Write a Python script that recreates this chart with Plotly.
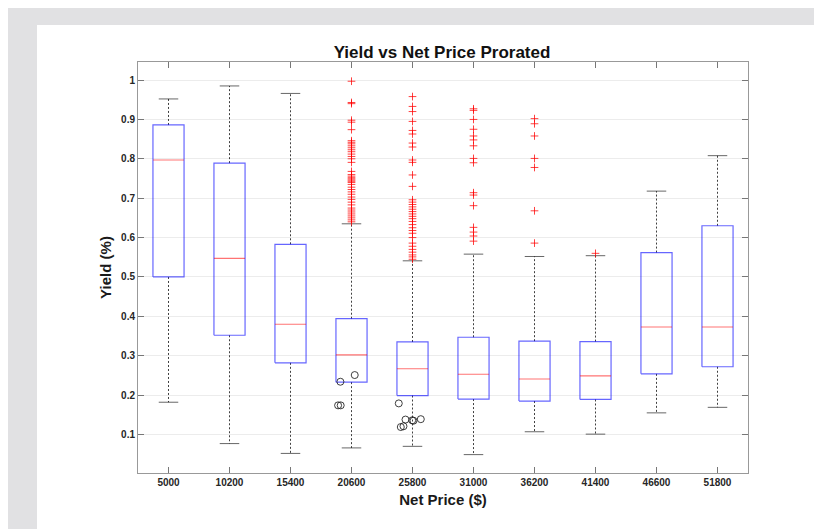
import plotly.graph_objects as go

# ---------------- data ----------------
categories = ["5000", "10200", "15400", "20600", "25800", "31000", "36200", "41400", "46600", "51800"]
q1 =        [0.500, 0.352, 0.282, 0.233, 0.199, 0.190, 0.185, 0.189, 0.254, 0.272]
median =    [0.797, 0.547, 0.380, 0.302, 0.267, 0.253, 0.241, 0.249, 0.373, 0.373]
q3 =        [0.886, 0.789, 0.583, 0.394, 0.335, 0.347, 0.337, 0.336, 0.562, 0.630]
whisk_lo =  [0.182, 0.077, 0.052, 0.066, 0.070, 0.049, 0.107, 0.101, 0.155, 0.169]
whisk_hi =  [0.952, 0.985, 0.966, 0.635, 0.541, 0.558, 0.552, 0.554, 0.718, 0.808]

outliers_20600 = [0.997, 0.943, 0.940, 0.898, 0.893, 0.874, 0.846, 0.842, 0.838, 0.833,
                  0.828, 0.823, 0.818, 0.812, 0.806, 0.800, 0.791, 0.768, 0.760, 0.756,
                  0.752, 0.749, 0.746, 0.743, 0.740, 0.735, 0.728, 0.722, 0.716, 0.710,
                  0.703, 0.697, 0.690, 0.683, 0.675, 0.670, 0.665, 0.660, 0.655, 0.650,
                  0.645, 0.640]
outliers_25800 = [0.958, 0.933, 0.920, 0.895, 0.872, 0.863, 0.840, 0.830, 0.797, 0.791,
                  0.759, 0.730, 0.696, 0.690, 0.684, 0.678, 0.672, 0.666, 0.660, 0.654,
                  0.648, 0.641, 0.633, 0.625, 0.618, 0.611, 0.600, 0.586, 0.578, 0.570,
                  0.563, 0.556, 0.551, 0.545]
outliers_31000 = [0.927, 0.923, 0.900, 0.875, 0.858, 0.848, 0.833, 0.801, 0.790, 0.714,
                  0.708, 0.681, 0.626, 0.614, 0.604, 0.591]
outliers_36200 = [0.902, 0.889, 0.858, 0.801, 0.778, 0.668, 0.586]
outliers_41400 = [0.560]
outlier_groups = {"20600": outliers_20600, "25800": outliers_25800, "31000": outliers_31000,
                  "36200": outliers_36200, "41400": outliers_41400}

# low-yield points drawn as open circles (x = category position, y = yield)
circle_pos =   [3.818, 4.053, 3.780, 3.823, 4.775, 4.808, 4.852, 4.885, 4.995, 5.016, 5.136]
circle_yield = [0.234, 0.251, 0.174, 0.174, 0.179, 0.119, 0.121, 0.138, 0.136, 0.135, 0.139]

y_tick_vals = [0.1, 0.2, 0.3, 0.4, 0.5, 0.6, 0.7, 0.8, 0.9, 1.0]
y_tick_text = ["0.1", "0.2", "0.3", "0.4", "0.5", "0.6", "0.7", "0.8", "0.9", "1"]

# ---------------- geometry helpers ----------------
BOX_HW = 0.255
CAP_HW = 0.16
positions = list(range(1, len(categories) + 1))

bx, by, mx, my, wx, wy, cx, cy = [], [], [], [], [], [], [], []
for p, a, m, b, lo, hi in zip(positions, q1, median, q3, whisk_lo, whisk_hi):
    bx += [p - BOX_HW, p + BOX_HW, p + BOX_HW, p - BOX_HW, p - BOX_HW, None]
    by += [a, a, b, b, a, None]
    mx += [p - BOX_HW, p + BOX_HW, None]
    my += [m, m, None]
    wx += [p, p, None, p, p, None]
    wy += [b, hi, None, a, lo, None]
    cx += [p - CAP_HW, p + CAP_HW, None, p - CAP_HW, p + CAP_HW, None]
    cy += [hi, hi, None, lo, lo, None]

ox, oy = [], []
for cat, vals in outlier_groups.items():
    p = positions[categories.index(cat)]
    ox += [p] * len(vals)
    oy += vals

fig = go.Figure()
fig.add_trace(go.Scatter(x=wx, y=wy, mode="lines",
                         line=dict(color="rgba(0,0,0,0.75)", width=1, dash="2px,2px"),
                         hoverinfo="skip", showlegend=False))
fig.add_trace(go.Scatter(x=cx, y=cy, mode="lines",
                         line=dict(color="rgba(0,0,0,0.6)", width=1),
                         hoverinfo="skip", showlegend=False))
fig.add_trace(go.Scatter(x=bx, y=by, mode="lines",
                         line=dict(color="rgba(0,0,255,0.6)", width=1.2),
                         showlegend=False))
fig.add_trace(go.Scatter(x=mx, y=my, mode="lines",
                         line=dict(color="rgba(255,0,0,0.55)", width=1.2),
                         showlegend=False))
fig.add_trace(go.Scatter(x=ox, y=oy, mode="markers",
                         marker=dict(symbol="cross-thin", size=5.5, color="rgba(255,0,0,0.75)",
                                     line=dict(color="rgba(255,0,0,0.75)", width=1)),
                         showlegend=False))
fig.add_trace(go.Scatter(x=circle_pos, y=circle_yield, mode="markers",
                         marker=dict(symbol="circle-open", size=7, color="rgba(30,30,30,0.85)",
                                     line=dict(color="rgba(30,30,30,0.85)", width=1)),
                         showlegend=False))

FONT = "Liberation Sans, Arial, sans-serif"
OFF = 8                      # page body margin offset
W, H = 822 - OFF, 529 - OFF  # figure size inside the window
L, R, T, B = 138 - OFF, 74, 62 - OFF, 56
pw, ph = W - L - R, H - T - B

def px_x(px):  # screen pixel -> paper x
    return (px - OFF - L) / pw

def px_y(py):  # screen pixel -> paper y
    return (H - B - (py - OFF)) / ph

fig.update_layout(
    width=W, height=H,
    margin=dict(l=L, r=R, t=T, b=B, pad=0),
    paper_bgcolor="white", plot_bgcolor="white",
    title=dict(text="Yield vs Net Price Prorated", x=px_x(442), xref="paper", xanchor="center",
               y=1 - (52 - OFF) / H, yref="container", yanchor="middle",
               font=dict(family=FONT, size=17, color="#111111", weight="bold")),
    shapes=[
        dict(type="rect", xref="paper", yref="paper", layer="below",
             x0=px_x(0), x1=px_x(830), y0=px_y(540), y1=px_y(0),
             fillcolor="#e1e1e3", line=dict(width=0)),
        dict(type="rect", xref="paper", yref="paper", layer="below",
             x0=px_x(37), x1=px_x(830), y0=px_y(540), y1=px_y(25),
             fillcolor="white", line=dict(width=0)),
    ],
    xaxis=dict(
        range=[0.5, 10.5], tickmode="array", tickvals=positions, ticktext=categories,
        showgrid=False, zeroline=False,
        ticks="inside", ticklen=6, tickcolor="#777777", tickwidth=1,
        showline=True, linecolor="#999999", linewidth=1, mirror="ticks",
        tickfont=dict(family=FONT, size=10, color="#262626", weight="bold"),
        title=dict(text="Net Price ($)", standoff=7,
                   font=dict(family=FONT, size=15, color="#1a1a1a", weight="bold")),
    ),
    yaxis=dict(
        range=[0.0023, 1.0458], tickmode="array", tickvals=y_tick_vals, ticktext=y_tick_text,
        showgrid=True, gridcolor="#ececec", gridwidth=1, zeroline=False,
        ticks="inside", ticklen=6, tickcolor="#777777", tickwidth=1,
        showline=True, linecolor="#999999", linewidth=1, mirror="ticks",
        tickfont=dict(family=FONT, size=10, color="#262626", weight="bold"),
        title=dict(text="Yield (%)", standoff=5,
                   font=dict(family=FONT, size=15, color="#1a1a1a", weight="bold")),
    ),
)

fig.write_html("out.html")
